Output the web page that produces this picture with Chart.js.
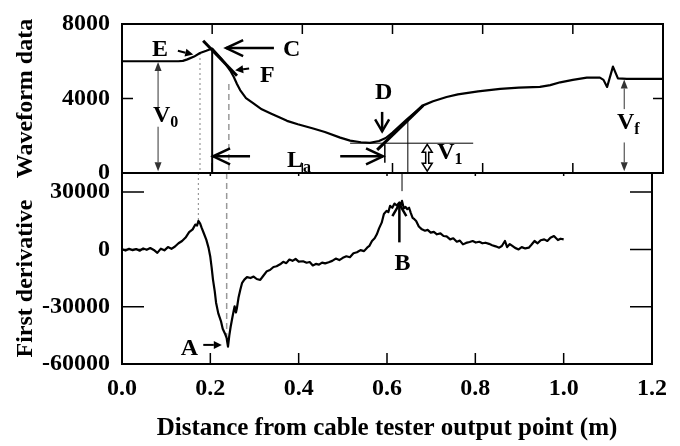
<!DOCTYPE html>
<html>
<head>
<meta charset="utf-8">
<script src="https://cdn.jsdelivr.net/npm/chart.js@4.4.0/dist/chart.umd.min.js"></script>
<style>
  html, body { margin: 0; padding: 0; background: #fff; }
  #wrap { position: relative; width: 680px; height: 446px; }
  #wrap canvas { position: absolute; left: 0; top: 0; }
</style>
</head>
<body>
<div id="wrap">
  <canvas id="deriv-chart" width="680" height="446"></canvas>
  <canvas id="wave-chart" width="680" height="446"></canvas>
</div>
<script>
// ── Data ───────────────────────────────────────────────────
const xTicks = [0, 0.2, 0.4, 0.6, 0.8, 1.0, 1.2];
const waveTicks = [0, 4000, 8000];
const derivTicks = [-60000, -30000, 0, 30000];

const waveX = [0.000, 0.125, 0.135, 0.145, 0.160, 0.173, 0.187, 0.200, 0.210, 0.220,
               0.230, 0.240, 0.248, 0.255, 0.262, 0.275, 0.290, 0.310, 0.330, 0.350,
               0.366, 0.390, 0.424, 0.450, 0.484, 0.506, 0.530, 0.550, 0.570, 0.585,
               0.600, 0.632, 0.668, 0.690, 0.720, 0.745, 0.790, 0.839, 0.880, 0.927,
               0.950, 0.972, 1.000, 1.031, 1.060, 1.068, 1.076, 1.089, 1.100, 1.120, 1.200];
const waveY = [6000, 6000, 6020, 6100, 6250, 6440, 6560, 6680, 6420, 6150,
               5850, 5500, 5150, 4780, 4450, 4020, 3760, 3420, 3200, 2980,
               2800, 2620, 2390, 2200, 1900, 1740, 1650, 1620, 1720, 1880,
               2170, 2880, 3630, 3850, 4080, 4220, 4380, 4520, 4580, 4620,
               4720, 4870, 5000, 5120, 5120, 5000, 4620, 5710, 5080, 5050, 5050];

const derivX = [0.000, 0.008, 0.016, 0.024, 0.032, 0.040, 0.048, 0.056, 0.064, 0.072,
                0.080, 0.088, 0.096, 0.104, 0.112, 0.120, 0.128, 0.136, 0.144, 0.152,
                0.160, 0.166, 0.170, 0.173, 0.177, 0.180, 0.185, 0.191, 0.196, 0.200,
                0.203, 0.206, 0.210, 0.213, 0.218, 0.224, 0.228, 0.233, 0.237, 0.240,
                0.243, 0.246, 0.250, 0.253, 0.255, 0.258, 0.260, 0.264, 0.268, 0.272,
                0.277, 0.283, 0.291, 0.298, 0.305, 0.313, 0.320, 0.328, 0.335, 0.343,
                0.350, 0.358, 0.365, 0.372, 0.379, 0.386, 0.393, 0.400, 0.410, 0.418,
                0.425, 0.432, 0.439, 0.446, 0.453, 0.460, 0.468, 0.476, 0.484, 0.492,
                0.500, 0.508, 0.516, 0.524, 0.532, 0.540, 0.548, 0.555, 0.560, 0.566,
                0.572, 0.577, 0.582, 0.588, 0.593, 0.599, 0.603, 0.607, 0.612, 0.617,
                0.622, 0.628, 0.631, 0.634, 0.638, 0.642, 0.646, 0.650, 0.654, 0.658,
                0.662, 0.666, 0.672, 0.679, 0.686, 0.692, 0.699, 0.706, 0.713, 0.721,
                0.728, 0.735, 0.743, 0.750, 0.758, 0.765, 0.772, 0.779, 0.787, 0.794,
                0.801, 0.809, 0.816, 0.823, 0.831, 0.838, 0.846, 0.854, 0.860, 0.867,
                0.872, 0.878, 0.883, 0.890, 0.898, 0.905, 0.913, 0.921, 0.927, 0.934,
                0.941, 0.948, 0.956, 0.963, 0.970, 0.978, 0.983, 0.987, 0.993, 1.000];
const derivY = [0, -600, 300, -400, 200, -700, 500, -200, 700, -300,
                -1800, 400, -500, 1200, 300, 1500, 3200, 4400, 6200, 9000,
                10500, 13000, 12500, 14900, 13500, 11500, 8600, 5000, 800, -4000,
                -9500, -15800, -22000, -27900, -33500, -37500, -41500, -44000, -46500, -50900,
                -45000, -40500, -35500, -32000, -29800, -33000, -31000, -25000, -21000, -17500,
                -15800, -14500, -15000, -14200, -15500, -16000, -13800, -11400, -10800, -9200,
                -8800, -7800, -6500, -7200, -5300, -6000, -5000, -6400, -6200, -7000,
                -6600, -8400, -7600, -8000, -6900, -7300, -6700, -6000, -4800, -5600,
                -4400, -3600, -4100, -2000, -1500, -400, -900, 900, 1800, 4400,
                5800, 7900, 11000, 14000, 18500, 20160, 19500, 22800, 21800, 24000,
                23000, 24560, 23200, 25400, 21500, 22200, 21050, 21800, 19000, 16500,
                15800, 14900, 12000, 10500, 9800, 10200, 8800, 9200, 7900, 8400,
                7000, 6800, 5260, 5800, 4000, 4600, 2630, 3400, 3900, 4400,
                3600, 4000, 3200, 3500, 2900, 2200, 1600, 900, 1800, 4400,
                1200, 2800, 2000, 800, 0, 1200, 500, 900, 2400, 4400,
                3200, 4800, 5260, 4400, 6100, 7000, 5800, 4900, 5600, 5260];

// ── Annotations (data coordinates) ─────────────────────────
// vertical guides running through both panels
const guides = [
    { x: 0.173, top: 6440, bottom: 14900, style: 'dotted' },
    { x: 0.237, top: 4780, bottom: -45800, style: 'dashed' },
    { x: 0.634, top: 2833, bottom: 30500, style: 'thin' }
];
const waveSegments = [
    { from: [0.200, 6680], to: [0.200, 0], style: 'solid' },
    { from: [0.583, 1540], to: [0.583, 550], style: 'mark' },
    { from: [0.506, 1600], to: [0.779, 1600], style: 'thin' },
    { from: [0.180, 7100], to: [0.255, 5220], style: 'tangent' },
    { from: [0.566, 1240], to: [0.668, 3630], style: 'tangent' }
];
const waveArrows = [
    { from: [0.124, 6560], to: [0.158, 6360], kind: 'small' },   // E
    { from: [0.337, 6710], to: [0.231, 6710], kind: 'open' },    // C
    { from: [0.282, 5615], to: [0.251, 5516], kind: 'small' },   // F
    { from: [0.284, 894], to: [0.202, 894], kind: 'open' },      // La
    { from: [0.484, 894], to: [0.579, 894], kind: 'open' },
    { from: [0.577, 3280], to: [0.577, 2236], kind: 'mid' },     // D
    { from: [0.080, 3430], to: [0.080, 5963], kind: 'thin' },    // V0
    { from: [0.080, 2484], to: [0.080, 99], kind: 'thin' },
    { from: [1.114, 3430], to: [1.114, 5019], kind: 'thin' },    // Vf
    { from: [1.114, 1640], to: [1.114, 99], kind: 'thin' }
];
const waveLabels = [
    { at: [0.0665, 6261], text: 'E' },
    { at: [0.357, 6261], text: 'C' },
    { at: [0.306, 4870], text: 'F' },
    { at: [0.561, 3975], text: 'D' },
    { at: [0.366, 298], text: 'L', sub: 'a' },
    { at: [0.0688, 2733], text: 'V', sub: '0' },
    { at: [1.098, 2385], text: 'V', sub: 'f' },
    { at: [0.699, 745], text: 'V', sub: '1' }
];
const v1Span = { x: 0.677, from: 1540, to: 100 };
const derivArrows = [
    { from: [0.184, -50000], to: [0.226, -50000], kind: 'small' },  // A
    { from: [0.628, 3684], to: [0.628, 23684], kind: 'mid' }        // B
];
const derivLabels = [
    { at: [0.133, -55263], text: 'A' },
    { at: [0.617, -10526], text: 'B' }
];

// ── Styles ─────────────────────────────────────────────────
const SERIF = '"Liberation Serif", "Times New Roman", Times, serif';
const tickFont = { family: SERIF, size: 24, weight: 'bold', lineHeight: 1 };
const titleFont = { family: SERIF, size: 25, weight: 'bold', lineHeight: 1 };

const lineStyles = {
    dotted: { color: '#999', width: 1.2, dash: [2, 3] },
    dashed: { color: '#999', width: 1.5, dash: [6, 4] },
    thin: { color: '#000', width: 1, dash: [] },
    mark: { color: '#000', width: 1.5, dash: [] },
    solid: { color: '#000', width: 2, dash: [] },
    tangent: { color: '#000', width: 3, dash: [] }
};
const arrowKinds = {
    small: { width: 2, len: 8, half: 4, filled: true, color: '#000' },
    open: { width: 2.5, len: 17, half: 8, filled: false, color: '#000' },
    mid: { width: 2.5, len: 12, half: 7, filled: false, color: '#000' },
    thin: { width: 1, len: 9, half: 3.5, filled: true, color: '#333' }
};

const toPoints = (xs, ys) => xs.map((x, i) => ({ x, y: ys[i] }));

function drawLine(ctx, x1, y1, x2, y2, style) {
    ctx.save();
    ctx.strokeStyle = style.color;
    ctx.lineWidth = style.width;
    ctx.setLineDash(style.dash);
    ctx.beginPath();
    ctx.moveTo(x1, y1);
    ctx.lineTo(x2, y2);
    ctx.stroke();
    ctx.restore();
}

function drawArrow(ctx, x1, y1, x2, y2, k) {
    const ang = Math.atan2(y2 - y1, x2 - x1);
    const cos = Math.cos(ang), sin = Math.sin(ang);
    const bx = x2 - k.len * cos, by = y2 - k.len * sin;
    ctx.save();
    ctx.strokeStyle = k.color;
    ctx.fillStyle = k.color;
    ctx.lineWidth = k.width;
    ctx.beginPath();
    ctx.moveTo(x1, y1);
    ctx.lineTo(k.filled ? bx : x2, k.filled ? by : y2);
    ctx.stroke();
    ctx.beginPath();
    ctx.moveTo(bx - k.half * sin, by + k.half * cos);
    ctx.lineTo(x2, y2);
    ctx.lineTo(bx + k.half * sin, by - k.half * cos);
    if (k.filled) { ctx.closePath(); ctx.fill(); } else { ctx.stroke(); }
    ctx.restore();
}

function drawLabel(ctx, x, y, text, sub) {
    ctx.save();
    ctx.fillStyle = '#000';
    ctx.textAlign = 'left';
    ctx.textBaseline = 'alphabetic';
    ctx.font = `bold 24px ${SERIF}`;
    ctx.fillText(text, x, y);
    if (sub) {
        const w = ctx.measureText(text).width;
        ctx.font = `bold 16px ${SERIF}`;
        ctx.fillText(sub, x + w, y + 5);
    }
    ctx.restore();
}

function drawHollowDouble(ctx, cx, yt, yb) {
    const hw = 5, hl = 8, sw = 1.5;
    ctx.save();
    ctx.beginPath();
    ctx.moveTo(cx, yt);
    ctx.lineTo(cx + hw, yt + hl); ctx.lineTo(cx + sw, yt + hl);
    ctx.lineTo(cx + sw, yb - hl); ctx.lineTo(cx + hw, yb - hl);
    ctx.lineTo(cx, yb);
    ctx.lineTo(cx - hw, yb - hl); ctx.lineTo(cx - sw, yb - hl);
    ctx.lineTo(cx - sw, yt + hl); ctx.lineTo(cx - hw, yt + hl);
    ctx.closePath();
    ctx.fillStyle = '#fff';
    ctx.fill();
    ctx.strokeStyle = '#000';
    ctx.lineWidth = 1.5;
    ctx.stroke();
    ctx.restore();
}

/**
 * Frame, inward tick marks and rotated y title for one panel
 */
const framePlugin = {
    id: 'frame',
    afterDraw(chart, args, opts) {
        const { ctx, chartArea: a, scales: { x, y } } = chart;
        ctx.save();
        ctx.strokeStyle = '#000';
        ctx.lineWidth = 1.5;
        ctx.beginPath();
        xTicks.forEach(v => {
            const p = x.getPixelForValue(v);
            if (opts.xTop) { ctx.moveTo(p, a.top); ctx.lineTo(p, a.top + opts.xTop); }
            if (opts.xBottom) { ctx.moveTo(p, a.bottom); ctx.lineTo(p, a.bottom - opts.xBottom); }
        });
        opts.yValues.forEach(v => {
            const p = y.getPixelForValue(v);
            ctx.moveTo(a.left, p); ctx.lineTo(a.left + opts.yLeft, p);
            ctx.moveTo(a.right, p); ctx.lineTo(a.right - opts.yRight, p);
        });
        ctx.stroke();
        ctx.lineWidth = 2;
        ctx.strokeRect(a.left, a.top, a.right - a.left, a.bottom - a.top);

        ctx.fillStyle = '#000';
        ctx.font = `bold 24px ${SERIF}`;
        ctx.textAlign = 'center';
        ctx.textBaseline = 'alphabetic';
        ctx.translate(32, (a.top + a.bottom) / 2 + opts.titleShift);
        ctx.rotate(-Math.PI / 2);
        ctx.fillText(opts.title, 0, 0);
        ctx.restore();
    }
};

const wavePlugin = {
    id: 'waveNotes',
    beforeDatasetsDraw(chart) {
        const { ctx, scales: { x, y } } = chart;
        guides.forEach(g => {
            const px = x.getPixelForValue(g.x);
            drawLine(ctx, px, y.getPixelForValue(g.top), px, y.getPixelForValue(y.min), lineStyles[g.style]);
        });
    },
    afterDatasetsDraw(chart) {
        const { ctx, scales: { x, y } } = chart;
        waveSegments.forEach(s => {
            drawLine(ctx, x.getPixelForValue(s.from[0]), y.getPixelForValue(s.from[1]),
                x.getPixelForValue(s.to[0]), y.getPixelForValue(s.to[1]), lineStyles[s.style]);
        });
        waveArrows.forEach(r => {
            drawArrow(ctx, x.getPixelForValue(r.from[0]), y.getPixelForValue(r.from[1]),
                x.getPixelForValue(r.to[0]), y.getPixelForValue(r.to[1]), arrowKinds[r.kind]);
        });
        drawHollowDouble(ctx, x.getPixelForValue(v1Span.x),
            y.getPixelForValue(v1Span.from), y.getPixelForValue(v1Span.to));
        waveLabels.forEach(l => {
            drawLabel(ctx, x.getPixelForValue(l.at[0]), y.getPixelForValue(l.at[1]), l.text, l.sub);
        });
    }
};

const derivPlugin = {
    id: 'derivNotes',
    beforeDatasetsDraw(chart) {
        const { ctx, scales: { x, y } } = chart;
        guides.forEach(g => {
            const px = x.getPixelForValue(g.x);
            drawLine(ctx, px, y.getPixelForValue(y.max), px, y.getPixelForValue(g.bottom), lineStyles[g.style]);
        });
    },
    afterDatasetsDraw(chart) {
        const { ctx, scales: { x, y } } = chart;
        derivArrows.forEach(r => {
            drawArrow(ctx, x.getPixelForValue(r.from[0]), y.getPixelForValue(r.from[1]),
                x.getPixelForValue(r.to[0]), y.getPixelForValue(r.to[1]), arrowKinds[r.kind]);
        });
        derivLabels.forEach(l => {
            drawLabel(ctx, x.getPixelForValue(l.at[0]), y.getPixelForValue(l.at[1]), l.text, l.sub);
        });
    }
};

function yScale(min, max, ticks) {
    return {
        min, max,
        afterBuildTicks: s => { s.ticks = ticks.map(v => ({ value: v })); },
        afterFit: s => { s.width = 122; },
        grid: { display: false, drawTicks: false },
        border: { display: false },
        ticks: { padding: 12, color: '#000', font: tickFont, callback: v => String(v) }
    };
}

function lineDataset(xs, ys) {
    return {
        data: toPoints(xs, ys),
        borderColor: '#000',
        borderWidth: 2.2,
        borderJoinStyle: 'round',
        pointRadius: 0,
        tension: 0,
        fill: false
    };
}

// ── Top panel: waveform ────────────────────────────────────
new Chart(document.getElementById('wave-chart'), {
    type: 'line',
    data: { datasets: [lineDataset(waveX, waveY)] },
    options: {
        responsive: false,
        animation: false,
        devicePixelRatio: 1,
        layout: { padding: { left: 0, right: 17, top: 12, bottom: 273 } },
        plugins: {
            legend: { display: false },
            tooltip: { enabled: false },
            frame: { xTop: 10, xBottom: 10, yLeft: 11, yRight: 10, yValues: waveTicks, title: 'Waveform data', titleShift: 0 }
        },
        scales: {
            x: { type: 'linear', min: 0, max: 1.2, display: false },
            y: yScale(0, 8000, waveTicks)
        }
    },
    plugins: [wavePlugin, framePlugin]
});

// ── Bottom panel: first derivative ─────────────────────────
new Chart(document.getElementById('deriv-chart'), {
    type: 'line',
    data: { datasets: [lineDataset(derivX, derivY)] },
    options: {
        responsive: false,
        animation: false,
        devicePixelRatio: 1,
        layout: { padding: { left: 0, right: 17, top: 173, bottom: 0 } },
        plugins: {
            legend: { display: false },
            tooltip: { enabled: false },
            frame: { xTop: 3, xBottom: 11, yLeft: 22, yRight: 22, yValues: derivTicks, title: 'First derivative', titleShift: 10 }
        },
        scales: {
            x: {
                type: 'linear', min: 0, max: 1.2,
                afterBuildTicks: s => { s.ticks = xTicks.map(v => ({ value: v })); },
                afterFit: s => { s.height = 82; },
                grid: { display: false, drawTicks: false },
                border: { display: false },
                ticks: { padding: 13, color: '#000', font: tickFont, maxRotation: 0, autoSkip: false, callback: v => v.toFixed(1) },
                title: {
                    display: true,
                    text: 'Distance from cable tester output point (m)',
                    color: '#000',
                    font: titleFont,
                    padding: { top: 0, bottom: 5 }
                }
            },
            y: yScale(-60000, 40000, derivTicks)
        }
    },
    plugins: [derivPlugin, framePlugin]
});
</script>
</body>
</html>
